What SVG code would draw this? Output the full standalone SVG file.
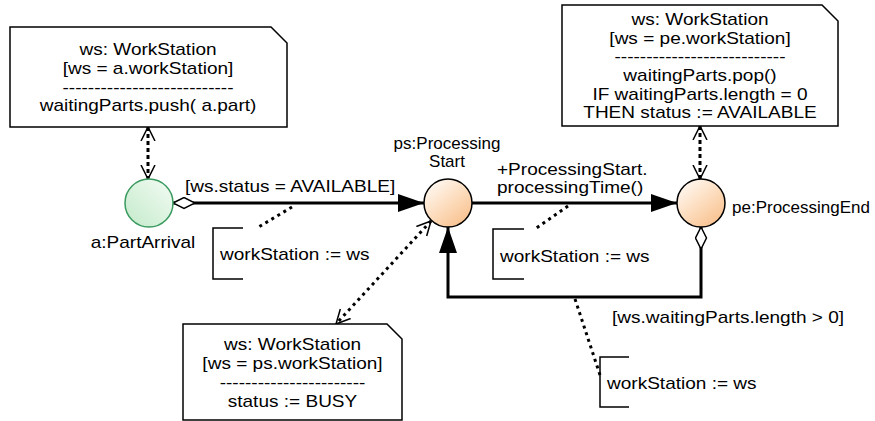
<svg xmlns="http://www.w3.org/2000/svg" width="875" height="421" viewBox="0 0 875 421">
<style>
text{font-family:"Liberation Sans",Arial,Helvetica,sans-serif;font-size:17px;fill:#000}
.note{fill:#fff;stroke:#000;stroke-width:1.5}
.main{fill:none;stroke:#000;stroke-width:3}
.link{fill:none;stroke:#000;stroke-width:3;stroke-dasharray:4 3}
.dot{fill:none;stroke:#000;stroke-width:3;stroke-dasharray:3 4}
.brk{fill:none;stroke:#000;stroke-width:1.5}
.ev{stroke:#000;stroke-width:1.5}
</style>
<defs>
<linearGradient id="gGreen" x1="1" y1="0" x2="0" y2="1">
<stop offset="0" stop-color="#f4fcf5"/>
<stop offset="1" stop-color="#c3eac9"/>
</linearGradient>
<linearGradient id="gOrange" x1="0" y1="0" x2="0.8" y2="1">
<stop offset="0" stop-color="#ffffff"/>
<stop offset="0.5" stop-color="#fde0c4"/>
<stop offset="1" stop-color="#f8c08c"/>
</linearGradient>
<marker id="arrow" markerUnits="userSpaceOnUse" markerWidth="26" markerHeight="18" refX="26" refY="9" orient="auto">
<path d="M0,0 L26,9 L0,18 z" fill="#000" stroke="none"/>
</marker>
<marker id="diamond" markerUnits="userSpaceOnUse" markerWidth="24" markerHeight="13" refX="1" refY="6.5" orient="auto">
<path d="M1,6.5 L12,1 L23,6.5 L12,12 z" fill="#fff" stroke="#000" stroke-width="1.5"/>
</marker>
<marker id="vee" markerUnits="userSpaceOnUse" markerWidth="16" markerHeight="16" refX="14" refY="8" orient="auto-start-reverse">
<path d="M0,1 L14,8 L0,15" fill="none" stroke="#000" stroke-width="1.5" stroke-dasharray="none"/>
</marker>
</defs>
<rect width="875" height="421" fill="#fff"/>

<g id="connectors">
<line class="main" x1="173" y1="203" x2="424" y2="203" marker-start="url(#diamond)" marker-end="url(#arrow)"/>
<line class="main" x1="472" y1="203" x2="677" y2="203" marker-end="url(#arrow)"/>
<path class="main" d="M701,227 V297 H448 V227" marker-start="url(#diamond)" marker-end="url(#arrow)"/>
<line class="link" x1="148" y1="127" x2="148" y2="179" marker-start="url(#vee)" marker-end="url(#vee)"/>
<line class="link" x1="700" y1="126" x2="700" y2="179" marker-start="url(#vee)" marker-end="url(#vee)"/>
<line class="dot" x1="431" y1="221" x2="336" y2="324" marker-start="url(#vee)" marker-end="url(#vee)"/>
<line class="dot" x1="292" y1="207" x2="257" y2="228"/>
<line class="dot" x1="568" y1="206" x2="535" y2="229"/>
<line class="dot" x1="575" y1="299" x2="600" y2="375"/>
<text transform="translate(185,192) scale(1.12,1)">[ws.status = AVAILABLE]</text>
<text transform="translate(497,175) scale(1.12,1)"><tspan x="0" y="0">+ProcessingStart.</tspan><tspan x="0" y="18">processingTime()</tspan></text>
<text transform="translate(612,323) scale(1.12,1)">[ws.waitingParts.length &gt; 0]</text>
</g>

<g id="assign1">
<path class="brk" d="M243,228 H213 V279 H243"/>
<text transform="translate(220,260) scale(1.12,1)">workStation := ws</text>
</g>
<g id="assign2">
<path class="brk" d="M524,229 H493 V279 H524"/>
<text transform="translate(500,262) scale(1.12,1)">workStation := ws</text>
</g>
<g id="assign3">
<path class="brk" d="M629,357 H600 V407 H629"/>
<text transform="translate(607,389) scale(1.12,1)">workStation := ws</text>
</g>

<g id="partArrival">
<circle cx="149" cy="203" r="24" fill="url(#gGreen)" stroke="#3a9a5f" stroke-width="1.5"/>
<text transform="translate(143,248) scale(1.12,1)" text-anchor="middle">a:PartArrival</text>
</g>
<g id="processingStart">
<circle class="ev" cx="448" cy="203" r="24" fill="url(#gOrange)"/>
<text x="447" text-anchor="middle"><tspan x="447" y="149">ps:Processing</tspan><tspan x="447" y="167">Start</tspan></text>
</g>
<g id="processingEnd">
<circle class="ev" cx="701" cy="203" r="24" fill="url(#gOrange)"/>
<text x="732" y="213">pe:ProcessingEnd</text>
</g>

<g id="note1">
<path class="note" d="M10,27 H271 L287,43 V127 H10 Z"/>
<text transform="translate(148,55) scale(1.12,1)" text-anchor="middle"><tspan x="0" y="0">ws: WorkStation</tspan><tspan x="0" y="18.8">[ws = a.workStation]</tspan><tspan x="0" y="37.6">---------------------------</tspan><tspan x="0" y="56.4">waitingParts.push( a.part)</tspan></text>
</g>
<g id="note2">
<path class="note" d="M562,5 H822 L838,21 V126 H562 Z"/>
<text transform="translate(700,25) scale(1.12,1)" text-anchor="middle"><tspan x="0" y="0">ws: WorkStation</tspan><tspan x="0" y="18.7">[ws = pe.workStation]</tspan><tspan x="0" y="37.4">---------------------------</tspan><tspan x="0" y="56.1">waitingParts.pop()</tspan><tspan x="0" y="74.8">IF waitingParts.length = 0</tspan><tspan x="0" y="93.5">THEN status := AVAILABLE</tspan></text>
</g>
<g id="note3">
<path class="note" d="M183,324 H387 L402,339 V420 H183 Z"/>
<text transform="translate(292.5,350) scale(1.12,1)" text-anchor="middle"><tspan x="0" y="0">ws: WorkStation</tspan><tspan x="0" y="18.9">[ws = ps.workStation]</tspan><tspan x="0" y="37.8">-----------------------</tspan><tspan x="0" y="56.7">status := BUSY</tspan></text>
</g>
</svg>
